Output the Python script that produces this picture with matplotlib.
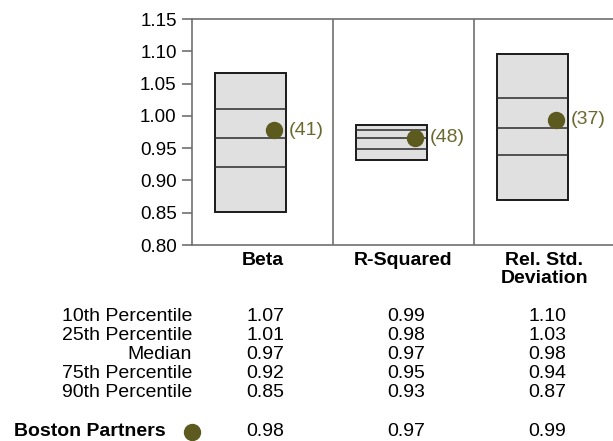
import matplotlib
matplotlib.use("Agg")
import matplotlib.pyplot as plt
from matplotlib.transforms import blended_transform_factory

plt.rcParams['font.family'] = ['Liberation Sans', 'DejaVu Sans']

categories = ["Beta", "R-Squared", "Rel. Std.\nDeviation"]
p10 = [1.066, 0.986, 1.096]
p25 = [1.010, 0.978, 1.027]
median = [0.966, 0.966, 0.981]
p75 = [0.921, 0.949, 0.940]
p90 = [0.851, 0.932, 0.869]
manager = [0.978, 0.966, 0.994]
ranks = ["(41)", "(48)", "(37)"]
manager_name = "Boston Partners"
row_names = ["10th Percentile", "25th Percentile", "Median", "75th Percentile", "90th Percentile"]
table_vals = [
    ["1.07", "0.99", "1.10"],
    ["1.01", "0.98", "1.03"],
    ["0.97", "0.97", "0.98"],
    ["0.92", "0.95", "0.94"],
    ["0.85", "0.93", "0.87"],
]
manager_vals = ["0.98", "0.97", "0.99"]
yticks = [0.80, 0.85, 0.90, 0.95, 1.00, 1.05, 1.10, 1.15]

W, H = 613, 441
fig = plt.figure(figsize=(W / 100, H / 100), dpi=100)
ax = fig.add_axes([192 / W, (H - 245) / H, 423 / W, 226 / H])

dot_color = '#5d5a20'
text_olive = '#6b6830'
spine_color = '#707070'
fs = 14
fs_tick = 13.5

box_w = 0.5
box_off = -0.085
for i in range(len(categories)):
    xc = i + box_off
    ax.add_patch(plt.Rectangle((xc - box_w / 2, p90[i]), box_w, p10[i] - p90[i],
                               facecolor='#e0e0e0', edgecolor='#1a1a1a', lw=1.4, zorder=2))
    for v in (p25[i], median[i], p75[i]):
        ax.plot([xc - box_w / 2, xc + box_w / 2], [v, v], color='#2a2a2a', lw=1.1, zorder=3)
    ax.plot(i + 0.082, manager[i], 'o', color=dot_color, ms=11.5, zorder=4)
    ax.annotate(ranks[i], (i + 0.082, manager[i]), xytext=(10.5, 0), textcoords='offset points',
                ha='left', va='center', color=text_olive, fontsize=fs)

for xv in (0.5, 1.5):
    ax.axvline(xv, color=spine_color, lw=1.2, zorder=1)

ax.set_xlim(-0.5, 2.5)
ax.set_ylim(0.80, 1.15)
ax.set_yticks(yticks)
ax.set_yticklabels([f"{t:.2f}" for t in yticks], fontsize=fs_tick)
ax.set_xticks([])
ax.tick_params(axis='y', length=7, width=1.2, color=spine_color, pad=4)
for s in ('left', 'top', 'bottom', 'right'):
    ax.spines[s].set_color(spine_color)
    ax.spines[s].set_linewidth(1.2)

tr = blended_transform_factory(ax.transData, fig.transFigure)
for i, c in enumerate(categories):
    ax.text(i, 1 - 252 / H, c, transform=tr, ha='center', va='top', fontsize=fs,
            fontweight='bold', linespacing=1.05)

row_y = [316.5, 335.5, 354.5, 373.5, 392.5]
for r, name in enumerate(row_names):
    y = 1 - row_y[r] / H
    fig.text(192 / W, y, name, ha='right', va='center', fontsize=fs)
    for i in range(len(categories)):
        ax.text(i + 0.02, y, table_vals[r][i], transform=tr, ha='center', va='center', fontsize=fs)

yb = 1 - 432 / H
fig.text(14 / W, yb, manager_name, ha='left', va='center', fontsize=fs, fontweight='bold')
fig.lines.append(plt.Line2D([192 / W], [yb], marker='o', color=dot_color, ms=11.5,
                            transform=fig.transFigure))
for i in range(len(categories)):
    ax.text(i + 0.02, yb, manager_vals[i], transform=tr, ha='center', va='center', fontsize=fs)

fig.savefig("out.png", dpi=100)
